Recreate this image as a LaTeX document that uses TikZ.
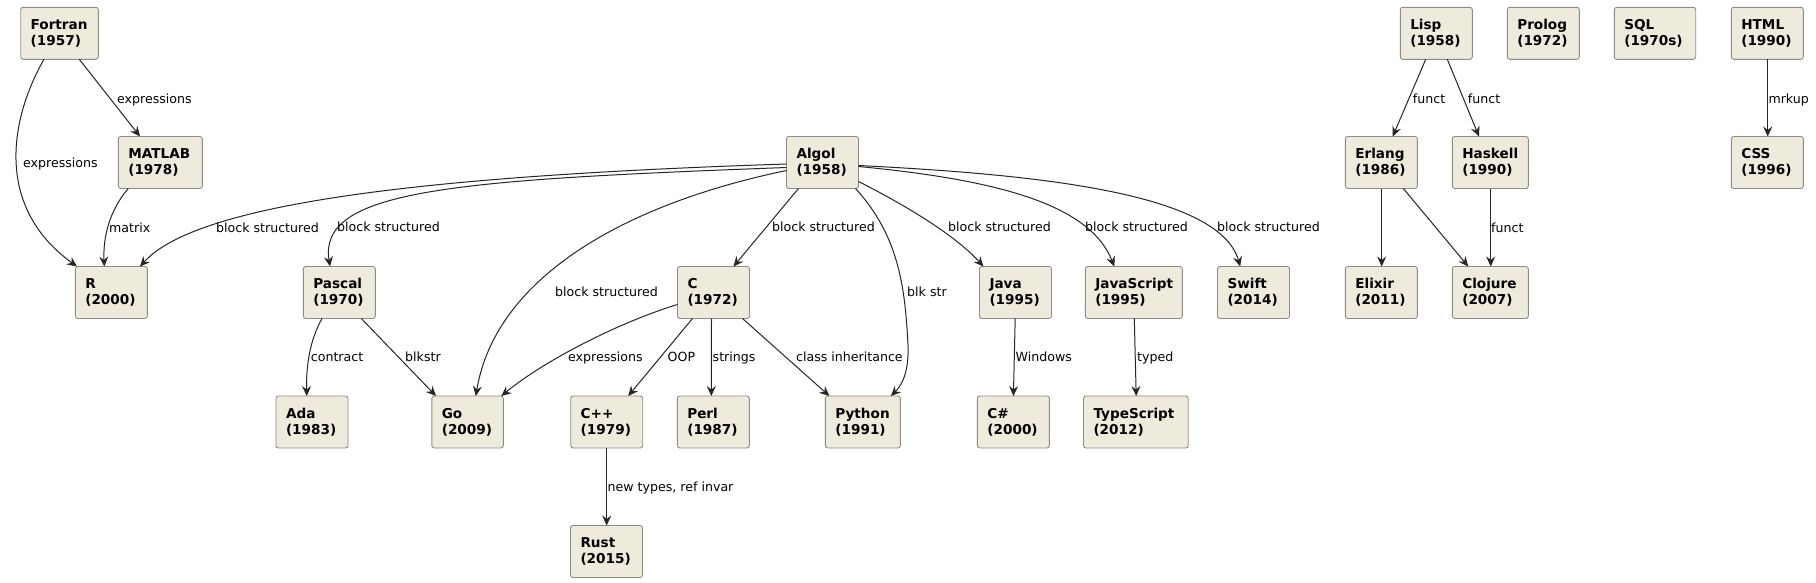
\documentclass[tikz,border=0pt]{standalone}
\usepackage{fontspec}
\setmainfont{DejaVu Sans}
\usetikzlibrary{arrows.meta}
\definecolor{boxfill}{HTML}{EEEBDC}
\definecolor{boxdraw}{HTML}{8C8C8C}
\definecolor{edgecol}{HTML}{262626}
\newcommand{\nodefnt}{\fontsize{13.6}{16.3}\selectfont\bfseries}
\newcommand{\lblfnt}{\fontsize{12.6}{15}\selectfont}
\begin{document}
\begin{tikzpicture}[x=1pt,y=-1pt,
  box/.style={draw=boxdraw, fill=boxfill, line width=0.9pt, rounded corners=2.5pt,
    anchor=north west, minimum height=52pt, inner xsep=10pt, inner ysep=2pt,
    outer sep=0pt, align=left, font=\nodefnt},
  conn/.style={draw=edgecol, line width=1pt, -{Stealth[length=10pt,width=9pt,inset=3.5pt]}},
  lbl/.style={anchor=west, inner sep=0pt, font=\lblfnt, text height=9pt, text depth=2.5pt, yshift=-1.6pt}]
\fill[white] (0,0) rectangle (1816,582);
\useasboundingbox (0,0) rectangle (1816,582);

% nodes
\node[box, text width=57.6pt] (fortran) at (20.7,7.3) {Fortran\\(1957)};
\node[box, text width=64pt] (matlab) at (118.3,136.5) {MATLAB\\(1978)};
\node[box, text width=52pt] (r) at (75.3,266.5) {R\\(2000)};
\node[box, text width=52pt] (algol) at (786.5,136.5) {Algol\\(1958)};
\node[box, text width=52pt] (pascal) at (303.3,266.5) {Pascal\\(1970)};
\node[box, text width=52pt] (c) at (677.5,266.5) {C\\(1972)};
\node[box, text width=52pt] (java) at (979.5,266.5) {Java\\(1995)};
\node[box, text width=77pt] (javascript) at (1085.3,266.5) {JavaScript\\(1995)};
\node[box, text width=52pt] (swift) at (1217.5,266.5) {Swift\\(2014)};
\node[box, text width=52pt] (ada) at (276,396) {Ada\\(1983)};
\node[box, text width=51.5pt] (go) at (431.8,396) {Go\\(2009)};
\node[box, text width=52pt] (cpp) at (570.7,396) {C++\\(1979)};
\node[box, text width=52pt] (perl) at (677.3,396) {Perl\\(1987)};
\node[box, text width=55pt] (python) at (825.4,396) {Python\\(1991)};
\node[box, text width=52pt] (csharp) at (977.4,396) {C\#\\(2000)};
\node[box, text width=84.7pt] (typescript) at (1083.5,396) {TypeScript\\(2012)};
\node[box, text width=52pt] (rust) at (570.5,525.5) {Rust\\(2015)};
\node[box, text width=52pt] (lisp) at (1400.3,7.3) {Lisp\\(1958)};
\node[box, text width=52pt] (prolog) at (1507.3,7.3) {Prolog\\(1972)};
\node[box, text width=61.4pt] (sql) at (1614.3,7.3) {SQL\\(1970s)};
\node[box, text width=52pt] (html) at (1731.3,7.3) {HTML\\(1990)};
\node[box, text width=52pt] (erlang) at (1345.3,136.5) {Erlang\\(1986)};
\node[box, text width=56pt] (haskell) at (1452.3,136.5) {Haskell\\(1990)};
\node[box, text width=52pt] (css) at (1731.3,136.5) {CSS\\(1996)};
\node[box, text width=52pt] (elixir) at (1345.3,266.5) {Elixir\\(2011)};
\node[box, text width=56pt] (clojure) at (1452.3,266.5) {Clojure\\(2007)};

% Fortran / MATLAB
\draw[conn] ([xshift=23.3pt]fortran.south west) .. controls (12,115) and (-8,205) .. ([xshift=1.7pt]r.north west);
\node[lbl] (l1) at (23,163) {expressions};
\draw[conn] ([xshift=58.6pt]fortran.south west) -- ([xshift=21.7pt]matlab.north west);
\node[lbl] (l2) at (117,99) {expressions};
\draw[conn] ([xshift=10pt]matlab.south west) .. controls (108,212) and (103,240) .. ([xshift=29pt]r.north west);
\node[lbl] (l3) at (109,228) {matrix};

% Algol
\draw[conn] ([yshift=-27.5pt]algol.north west) .. controls (450,175) and (200,200) .. ([xshift=64.7pt]r.north west);
\node[lbl] (l4) at (216,228) {block structured};
\draw[conn] ([yshift=-31pt]algol.north west) .. controls (450,180) and (318,190) .. ([xshift=26.7pt]pascal.north west);
\node[lbl] (l5) at (337,227) {block structured};
\draw[conn] ([yshift=-34pt]algol.north west) .. controls (620,205) and (495,280) .. ([xshift=44pt]go.north west);
\node[lbl] (l6) at (555,292) {block structured};
\draw[conn] ([xshift=12pt]algol.south west) -- ([xshift=56pt]c.north west);
\node[lbl] (l7) at (772,227) {block structured};
\draw[conn] ([xshift=-3pt]algol.south east) .. controls (898,235) and (905,285) .. (908,345) .. controls (909,372) and (902,385) .. ([xshift=65.5pt]python.north west);
\node[lbl] (l8) at (907,292) {blk str};
\draw[conn] ([yshift=-45pt]algol.north east) .. controls (905,205) and (955,235) .. ([xshift=4pt]java.north west);
\node[lbl] (l9) at (948,227) {block structured};
\draw[conn] ([yshift=-30pt]algol.north east) .. controls (1000,180) and (1090,205) .. ([xshift=29pt]javascript.north west);
\node[lbl] (l10) at (1085,227) {block structured};
\draw[conn] ([yshift=-29pt]algol.north east) .. controls (1050,175) and (1220,195) .. ([xshift=22.7pt]swift.north west);
\node[lbl] (l11) at (1217,227) {block structured};

% C
\draw[conn] ([yshift=-38pt]c.north west) .. controls (620,322) and (545,360) .. ([xshift=69.5pt]go.north west);
\node[lbl] (l12) at (568,357) {expressions};
\draw[conn] ([xshift=15pt]c.south west) -- ([xshift=57.5pt]cpp.north west);
\node[lbl] (l13) at (667.5,357) {OOP};
\draw[conn] ([xshift=34pt]c.south west) -- ([xshift=34pt]perl.north west);
\node[lbl] (l14) at (712.5,357) {strings};
\draw[conn] ([xshift=65pt]c.south west) -- ([xshift=4pt]python.north west);
\node[lbl] (l15) at (796,357) {class inheritance};

% Pascal
\draw[conn] ([xshift=18.7pt]pascal.south west) .. controls (310,340) and (306,365) .. ([xshift=30.8pt]ada.north west);
\node[lbl] (l16) at (310.7,357) {contract};
\draw[conn] ([xshift=58pt]pascal.south west) -- ([xshift=4.2pt]go.north west);
\node[lbl] (l17) at (405,357) {blkstr};

% Java, JavaScript, C++
\draw[conn] ([xshift=35.7pt]java.south west) -- ([xshift=36pt]csharp.north west);
\node[lbl] (l18) at (1015.5,357) {Windows};
\draw[conn] ([xshift=49pt]javascript.south west) -- ([xshift=52.7pt]typescript.north west);
\node[lbl] (l19) at (1137,357) {typed};
\draw[conn] ([xshift=36pt]cpp.south west) -- ([xshift=36.2pt]rust.north west);
\node[lbl] (l20) at (607.5,486.7) {new types, ref invar};

% right cluster
\draw[conn] ([xshift=25.4pt]lisp.south west) -- ([xshift=47.4pt]erlang.north west);
\node[lbl] (l21) at (1412.7,98.7) {funct};
\draw[conn] ([xshift=47pt]lisp.south west) -- ([xshift=26.7pt]haskell.north west);
\node[lbl] (l22) at (1467.7,98.7) {funct};
\draw[conn] ([xshift=36.4pt]html.south west) -- ([xshift=36.4pt]css.north west);
\node[lbl] (l23) at (1768.3,98.7) {mrkup};
\draw[conn] ([xshift=36.4pt]erlang.south west) -- ([xshift=36.4pt]elixir.north west);
\draw[conn] ([xshift=58pt]erlang.south west) -- ([xshift=16pt]clojure.north west);
\draw[conn] ([xshift=38.4pt]haskell.south west) -- ([xshift=38.4pt]clojure.north west);
\node[lbl] (l24) at (1491,228) {funct};
\end{tikzpicture}
\end{document}
